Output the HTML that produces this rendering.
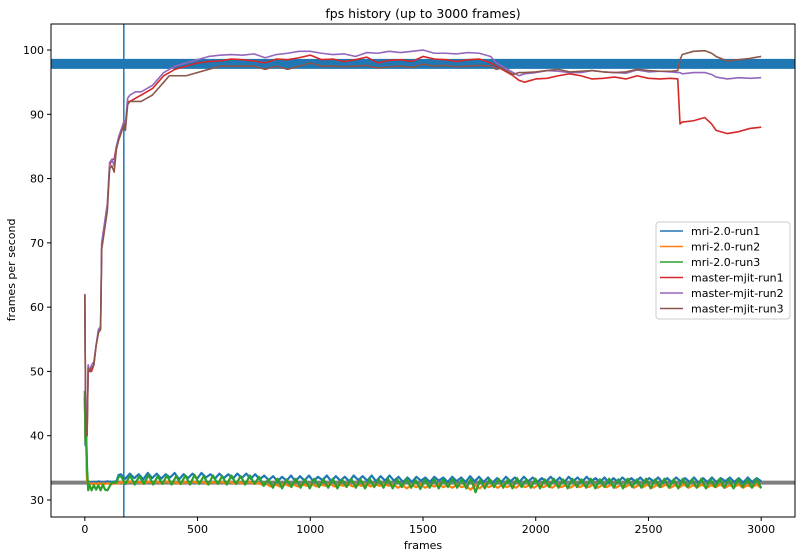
<!DOCTYPE html>
<html><head><meta charset="utf-8"><style>
body{margin:0;background:#fff}
svg{display:block;font-family:"DejaVu Sans","Liberation Sans",sans-serif}
</style></head><body>
<svg id="chart" width="803" height="557" viewBox="0 0 803 557">
<rect width="803" height="557" fill="#fff"/>
<text x="423" y="18" font-size="12.5" text-anchor="middle">fps history (up to 3000 frames)</text>
<text x="423" y="549" font-size="11" text-anchor="middle">frames</text>
<text transform="translate(15,270) rotate(-90)" font-size="11" text-anchor="middle">frames per second</text>
<g id="plot"></g>
</svg>
<script>
const xTicks=[0,500,1000,1500,2000,2500,3000];
const yTicks=[30,40,50,60,70,80,90,100];
const seriesNames=["mri-2.0-run1","mri-2.0-run2","mri-2.0-run3","master-mjit-run1","master-mjit-run2","master-mjit-run3"];
const colors=["#1f77b4","#ff7f0e","#2ca02c","#d62728","#9467bd","#8c564b"];
const meanFast=97.85, meanSlow=32.7, cutFrame=173;
const mjitX=[0,3,6,10,15,20,30,40,50,60,70,75,100,110,120,130,140,150,160,175,180,190,200,225,250,275,300,325,350,375,400,450,500,550,600,650,700,750,800,850,900,950,1000,1050,1100,1150,1200,1250,1300,1350,1400,1450,1500,1550,1600,1650,1700,1750,1800,1825,1850,1900,1925,1950,2000,2050,2100,2150,2200,2250,2300,2350,2400,2450,2500,2550,2600,2630,2640,2650,2700,2750,2780,2800,2850,2900,2950,3000];
const mjit1=[62,46,41,40,51,50,50,51,54,56,57,70,76,82,83,83,85,86,87,89,88,92,92,92.5,93,93.5,94,95,96,96.5,97,97.5,98,98.2,98.3,98.6,98.5,98.3,98,98.6,98.5,98.8,99.2,98.5,98.6,98.2,98.5,98.9,98,98.4,98.5,98.2,99,98.6,98.5,98.2,98.5,98.6,98,97.5,97,96,95.3,95,95.5,95.6,96,96.3,96,95.5,95.6,95.8,95.5,96,95.6,95.5,95.6,95.5,88.5,88.8,89,89.5,88.5,87.5,87,87.3,87.8,88];
const mjit2=[62,46,41,40,51,50,51,51.5,54,56.5,57,70,76,82.5,83,82,85,86.5,87.5,89,88.5,92.5,93,93.5,93.5,94,94.5,95.5,96.5,97,97.5,98,98.5,99,99.2,99.3,99.2,99.4,98.8,99.3,99.5,99.8,99.8,99.5,99.3,99.4,99,99.6,99.5,99.8,99.6,99.8,100,99.5,99.5,99.4,99.6,99.5,99,98,97.5,96.5,96,96.3,96.5,96.8,96.7,96.5,96.5,96.8,96.6,96.5,96.4,96.9,96.6,96.7,96.6,96.5,96.5,96.3,96.5,96.5,96.2,95.8,95.5,95.7,95.6,95.7];
const mjit3=[62,45,40,40,50.5,50,50.5,51,54,56,56.5,69,75,81.5,82,81,84.5,86,87,88.5,87.5,91.5,92,92,92,92.5,93,94,95,96,96,96,96.5,97,97.5,97.5,97.5,97.5,97,97.5,97,97.5,98,97.5,97.5,97.4,97.5,97.6,97.2,97.4,97.5,97.3,97.8,97.5,97.6,97.4,97.5,97.6,97.5,97,97.2,96.2,96.5,96.5,96.6,96.8,97,96.6,96.7,96.8,96.6,96.5,96.6,97,96.8,96.7,96.7,96.8,98.5,99.3,99.8,99.9,99.5,99,98.3,98.5,98.7,99];
const mriX=[0,3,6,10,15,20,30,40,50,60,70,80,90,100,120,140,150];
const mri1Head=[46,38.5,40,33,32.7,32.8,32.7,32.8,32.7,32.9,32.8,32.7,32.8,32.9,32.8,32.9,33.9];
const mri2Head=[46,39,40,33,32.5,32.6,32.5,32.6,32.5,32.6,32.5,32.6,32.5,32.6,32.5,32.6,32.6];
const mri3Head=[47,39,40,35,31.5,32.4,31.5,32.3,31.6,32.3,31.5,32.4,31.6,31.5,32.7,32.7,33.6];
const mri1Tail=[34,33.3,34.1,33.4,34,33.2,34.2,33.4,34.1,33.3,34,33.5,34.2,33.2,34,33.4,34.1,33.3,34.2,33.5,34,33.3,34.1,33.4,34,33.3,34.1,33.4,34.1,33.3,34,33.2,33.8,33.1,33.7,32.9,33.6,33,33.8,32.9,33.7,33,33.8,32.9,33.6,33.1,33.8,32.9,33.7,33,33.6,32.9,33.8,33.1,33.7,33,33.8,32.9,33.7,33,33.8,33,33.6,32.8,33.5,32.8,33.6,33,33.5,32.8,33.6,33,33.5,32.8,33.6,32.9,33.5,32.8,33.7,32.9,33.6,32.8,33.5,32.7,33.4,32.8,33.6,32.9,33.5,32.8,33.6,32.9,33.5,32.8,33.4,32.9,33.6,32.8,33.5,32.7,33.6,32.9,33.5,32.8,33.6,32.9,33.4,32.8,33.5,32.7,33.4,32.8,33.5,32.9,33.4,32.8,33.5,32.8,33.4,32.9,33.5,32.7,33.4,32.8,33.5,32.9,33.4,32.8,33.5,32.7,33.4,32.8,33.5,32.8,33.4,32.9,33.5,32.8,33.4,32.7,33.5,32.8,33.4,32.9];
const mri2Tail=[32.8,32.6,32.9,32.6,32.8,32.5,32.9,32.6,32.8,32.6,32.9,32.6,32.8,32.5,32.8,32.6,32.9,32.6,32.8,32.5,32.8,32.6,32.9,32.6,32.8,32.6,32.8,32.5,32.8,32.6,32.7,32.4,32.5,32.1,32.4,32.1,32.5,32.2,32.4,32.1,32.4,32.2,32.5,32.1,32.4,32.2,32.5,32.1,32.4,32.2,32.5,32.1,32.4,32.2,32.5,32.1,32.4,32.2,32.5,32.2,32.4,31.9,32.3,31.8,32.4,32,32.4,31.9,32.3,32.1,32.4,32,32.3,31.9,32.4,32,32.2,31.6,32.3,31.8,32.4,32,32.3,31.9,32.4,32,32.3,31.9,32.4,32,32.3,31.9,32.4,32,32.3,31.9,32.4,32,32.3,31.9,32.4,32,32.3,32,32.4,31.9,32.3,32,32.4,31.9,32.3,32,32.4,31.9,32.3,32,32.4,31.9,32.3,32,32.4,31.9,32.3,32,32.4,31.9,32.3,32,32.4,31.9,32.3,32,32.4,31.9,32.3,32,32.4,31.9,32.3,32,32.4,31.9];
const mri3Tail=[33.7,32.5,33.8,32.4,33.7,32.5,33.9,32.4,33.7,32.5,33.8,32.4,33.7,32.5,33.8,32.4,33.9,32.5,33.7,32.4,33.8,32.5,33.7,32.4,33.8,32.5,33.7,32.4,33.8,32.5,33.6,32.2,33.2,31.9,33.3,31.8,33.2,32,33.3,31.9,33.2,31.8,33.3,32,33.2,31.9,33.3,31.8,33.2,32,33.3,31.9,33.2,31.8,33.3,32,33.2,31.9,33.3,31.8,33.2,32,33.3,31.9,33.1,31.7,33.2,31.9,33.3,31.8,33.2,32,33.3,31.9,33.2,31.8,33.3,31.2,33.1,31.8,33.2,32,33.3,31.9,33.2,31.8,33.4,32,33.2,31.9,33.3,31.8,33.2,32,33.3,31.9,33.2,31.8,33.3,32,33.2,31.9,33.3,31.8,33.2,32,33.3,31.9,33.2,31.8,33.3,32,33.2,31.9,33.3,31.8,33.2,32,33.3,31.9,33.2,31.8,33.3,32,33.2,31.9,33.3,31.8,33.2,32,33.3,31.9,33.2,31.8,33.3,32,33.2,31.9,33.3,31.8];

const NS="http://www.w3.org/2000/svg";
const L=51,R=795,T=24,B=517;
const xMin=-150,xMax=3150,yMin=27.35,yMax=104.05;
function sx(v){return L+(v-xMin)/(xMax-xMin)*(R-L);}
function sy(v){return B-(v-yMin)/(yMax-yMin)*(B-T);}
const plot=document.getElementById('plot');
function mk(tag,attrs,parent){const e=document.createElementNS(NS,tag);for(const k in attrs)e.setAttribute(k,attrs[k]);(parent||plot).appendChild(e);return e;}
function tailX(tail){const xs=[];const step=(3000-160)/(tail.length-1);for(let i=0;i<tail.length;i++)xs.push(160+i*step);return xs;}
function drawLine(xs,ys,color,w,name){
  let d='';for(let i=0;i<xs.length;i++)d+=(i?'L':'M')+sx(xs[i]).toFixed(2)+','+sy(ys[i]).toFixed(2);
  const p=mk('path',{d:d,fill:'none',stroke:color,'stroke-width':w,'stroke-linejoin':'round'});
  
  
}
const hb=mk('line',{x1:L,x2:R,y1:sy(meanFast),y2:sy(meanFast),stroke:'#1f77b4','stroke-width':10});


const hs=mk('line',{x1:L,x2:R,y1:sy(meanSlow),y2:sy(meanSlow),stroke:'#7f7f7f','stroke-width':4});


const vl=mk('line',{x1:sx(cutFrame),x2:sx(cutFrame),y1:T,y2:B,stroke:'#1f77b4','stroke-width':1.5});


drawLine(mriX.concat(tailX(mri1Tail)),mri1Head.concat(mri1Tail),colors[0],2.2,'series-mri-run1');
drawLine(mriX.concat(tailX(mri2Tail)),mri2Head.concat(mri2Tail),colors[1],2.2,'series-mri-run2');
drawLine(mriX.concat(tailX(mri3Tail)),mri3Head.concat(mri3Tail),colors[2],2.2,'series-mri-run3');
drawLine(mjitX,mjit1,colors[3],1.6,'series-mjit-run1');
drawLine(mjitX,mjit2,colors[4],1.6,'series-mjit-run2');
drawLine(mjitX,mjit3,colors[5],1.6,'series-mjit-run3');
const fr=mk('rect',{x:L,y:T,width:R-L,height:B-T,fill:'none',stroke:'#000','stroke-width':1});


xTicks.forEach(v=>{
  const t=mk('line',{x1:sx(v),x2:sx(v),y1:B,y2:B+4,stroke:'#000'});
  
  
  const l=mk('text',{x:sx(v),y:B+16,'font-size':11,'text-anchor':'middle'});l.textContent=v;
  
  
});
yTicks.forEach(v=>{
  const t=mk('line',{x1:L-4,x2:L,y1:sy(v),y2:sy(v),stroke:'#000'});
  
  
  const l=mk('text',{x:L-7,y:sy(v)+4,'font-size':11,'text-anchor':'end'});l.textContent=v;
  
  
});
const lg=mk('g',{});


mk('rect',{x:656,y:222,width:134,height:97,rx:3,fill:'#fff','fill-opacity':0.8,stroke:'#ccc'},lg);
seriesNames.forEach((n,i)=>{
  const y=231+i*15.5;
  const g=mk('g',{},lg);
  
  
  mk('line',{x1:660,x2:683,y1:y,y2:y,stroke:colors[i],'stroke-width':1.5},g);
  const t=mk('text',{x:691,y:y+4,'font-size':11},g);t.textContent=n;
});
</script>
</body></html>
